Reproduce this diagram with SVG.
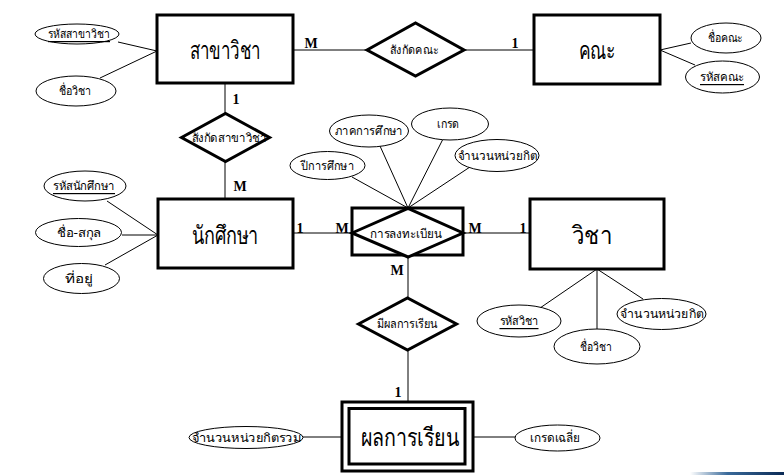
<svg xmlns="http://www.w3.org/2000/svg" width="784" height="475" viewBox="0 0 784 475">
<defs>
<linearGradient id="bar" x1="0" y1="0" x2="1" y2="0">
<stop offset="0" stop-color="#ffffff"/>
<stop offset="0.4" stop-color="#3a6a9a"/>
<stop offset="1" stop-color="#0b2a55"/>
</linearGradient>
<style>
.ent{fill:#fff;stroke:#000;stroke-width:3}
.rel{fill:#fff;stroke:#000;stroke-width:3;stroke-linejoin:miter}
.att{fill:#fff;stroke:#000;stroke-width:1}
.ln{stroke:#000;stroke-width:1;fill:none}
.et{font-family:"Liberation Serif","DejaVu Serif",serif;font-size:25px;text-anchor:middle;dominant-baseline:central}
.rt{font-family:"Liberation Serif","DejaVu Serif",serif;font-size:12px;text-anchor:middle;dominant-baseline:central}
.at{font-family:"Liberation Serif","DejaVu Serif",serif;font-size:12px;text-anchor:middle;dominant-baseline:central}
.u{text-decoration:underline}
.lb{font-family:"Liberation Serif","DejaVu Serif",serif;font-size:14px;font-weight:bold;text-anchor:middle;dominant-baseline:central}
</style>
</defs>
<rect width="784" height="475" fill="#fff"/>
<rect x="690" y="472" width="94" height="3" fill="url(#bar)"/>

<g id="connectors">
<line class="ln" x1="118" y1="42" x2="157" y2="51"/>
<line class="ln" x1="100" y1="78" x2="157" y2="51"/>
<line class="ln" x1="293" y1="50" x2="367" y2="50"/>
<line class="ln" x1="464" y1="50" x2="534" y2="50"/>
<line class="ln" x1="660" y1="50" x2="691" y2="43"/>
<line class="ln" x1="660" y1="50" x2="695" y2="65"/>
<line class="ln" x1="225" y1="83" x2="225" y2="113"/>
<line class="ln" x1="225" y1="162" x2="225" y2="199"/>
<line class="ln" x1="107" y1="201" x2="158" y2="235"/>
<line class="ln" x1="122" y1="235" x2="158" y2="235"/>
<line class="ln" x1="105" y1="265" x2="158" y2="235"/>
<line class="ln" x1="293" y1="233" x2="352" y2="233"/>
<line class="ln" x1="463" y1="233" x2="530" y2="233"/>
<line class="ln" x1="352" y1="177" x2="408" y2="208"/>
<line class="ln" x1="380" y1="146" x2="408" y2="208"/>
<line class="ln" x1="443" y1="139" x2="408" y2="208"/>
<line class="ln" x1="473" y1="165" x2="408" y2="208"/>
<line class="ln" x1="597" y1="269" x2="540" y2="308"/>
<line class="ln" x1="597" y1="269" x2="597" y2="329"/>
<line class="ln" x1="597" y1="269" x2="643" y2="299"/>
<line class="ln" x1="408" y1="257" x2="408" y2="298"/>
<line class="ln" x1="408" y1="350" x2="408" y2="402"/>
<line class="ln" x1="303" y1="437" x2="342" y2="437"/>
<line class="ln" x1="473" y1="437" x2="515" y2="437"/>
<text class="lb" x="311" y="43">M</text>
<text class="lb" x="515" y="43">1</text>
<text class="lb" x="236" y="99">1</text>
<text class="lb" x="240" y="186">M</text>
<text class="lb" x="300" y="228">1</text>
<text class="lb" x="342" y="228">M</text>
<text class="lb" x="475" y="228">M</text>
<text class="lb" x="523" y="228">1</text>
<text class="lb" x="397" y="270">M</text>
<text class="lb" x="398" y="392">1</text>
</g>

<g id="sakha">
<rect class="ent" x="157" y="15" width="136" height="68"/>
<text class="et" x="225" y="50" textLength="71" lengthAdjust="spacingAndGlyphs">สาขาวิชา</text>
</g>
<g id="sakha-id">
<ellipse class="att" cx="77" cy="34" rx="42" ry="10"/>
<text class="at u" x="79" y="34" textLength="62" lengthAdjust="spacingAndGlyphs">รหัสสาขาวิชา</text>
</g>
<g id="sakha-name">
<ellipse class="att" cx="76" cy="91" rx="40" ry="15"/>
<text class="at" x="75" y="91" textLength="33" lengthAdjust="spacingAndGlyphs">ชื่อวิชา</text>
</g>

<g id="sangkat-khana">
<polygon class="rel" points="367,50 415.5,23 464,50 415.5,76"/>
<text class="rt" x="414" y="50" textLength="48" lengthAdjust="spacingAndGlyphs">สังกัดคณะ</text>
</g>

<g id="khana">
<rect class="ent" x="534" y="15" width="126" height="69"/>
<text class="et" x="597" y="50" textLength="37" lengthAdjust="spacingAndGlyphs">คณะ</text>
</g>
<g id="khana-name">
<ellipse class="att" cx="726" cy="38" rx="35" ry="15"/>
<text class="at" x="725" y="38" textLength="35" lengthAdjust="spacingAndGlyphs">ชื่อคณะ</text>
</g>
<g id="khana-id">
<ellipse class="att" cx="722.5" cy="77" rx="37" ry="16"/>
<text class="at u" x="722" y="77" textLength="44" lengthAdjust="spacingAndGlyphs">รหัสคณะ</text>
</g>

<g id="sangkat-sakha">
<polygon class="rel" points="181.5,137.5 225.5,113.5 269.5,137.5 225.5,161.5"/>
<text class="rt" x="229" y="137.5" textLength="75" lengthAdjust="spacingAndGlyphs">สังกัดสาขาวิชา</text>
</g>

<g id="student">
<rect class="ent" x="158" y="199" width="135" height="69"/>
<text class="et" x="225" y="235" textLength="67" lengthAdjust="spacingAndGlyphs">นักศึกษา</text>
</g>
<g id="student-id">
<ellipse class="att" cx="85" cy="186" rx="41" ry="15"/>
<text class="at u" x="84" y="186" textLength="62" lengthAdjust="spacingAndGlyphs">รหัสนักศึกษา</text>
</g>
<g id="student-name">
<ellipse class="att" cx="78.5" cy="232.5" rx="43" ry="14"/>
<text class="at" x="79" y="232.5" textLength="44" lengthAdjust="spacingAndGlyphs">ชื่อ-สกุล</text>
</g>
<g id="student-addr">
<ellipse class="att" cx="81.5" cy="278.5" rx="38" ry="15"/>
<text class="at" x="79" y="278.5" textLength="28" lengthAdjust="spacingAndGlyphs">ที่อยู่</text>
</g>

<g id="register">
<rect class="ent" x="352" y="208" width="111" height="47"/>
<polygon class="rel" points="352,233 408,208.5 463,233 408,257"/>
<text class="rt" x="406" y="234" textLength="72" lengthAdjust="spacingAndGlyphs">การลงทะเบียน</text>
</g>
<g id="reg-year">
<ellipse class="att" cx="327.5" cy="165.5" rx="37.5" ry="14"/>
<text class="at" x="327.5" y="165.5" textLength="53" lengthAdjust="spacingAndGlyphs">ปีการศึกษา</text>
</g>
<g id="reg-term">
<ellipse class="att" cx="369" cy="131" rx="39.5" ry="16"/>
<text class="at" x="369" y="131" textLength="68" lengthAdjust="spacingAndGlyphs">ภาคการศึกษา</text>
</g>
<g id="reg-grade">
<ellipse class="att" cx="450" cy="124" rx="38.5" ry="16"/>
<text class="at" x="448" y="124" textLength="22" lengthAdjust="spacingAndGlyphs">เกรด</text>
</g>
<g id="reg-credit">
<ellipse class="att" cx="497" cy="155.5" rx="42" ry="16"/>
<text class="at" x="497.5" y="155.5" textLength="80" lengthAdjust="spacingAndGlyphs">จำนวนหน่วยกิต</text>
</g>

<g id="subject">
<rect class="ent" x="530" y="199" width="134" height="70"/>
<text class="et" x="592" y="235" textLength="40" lengthAdjust="spacingAndGlyphs">วิชา</text>
</g>
<g id="subject-id">
<ellipse class="att" cx="519" cy="321" rx="42" ry="16"/>
<text class="at u" x="519" y="321" textLength="39" lengthAdjust="spacingAndGlyphs">รหัสวิชา</text>
</g>
<g id="subject-name">
<ellipse class="att" cx="597" cy="346.5" rx="43" ry="17.5"/>
<text class="at" x="596" y="346.5" textLength="32" lengthAdjust="spacingAndGlyphs">ชื่อวิชา</text>
</g>
<g id="subject-credit">
<ellipse class="att" cx="661.5" cy="314" rx="44.5" ry="15.5"/>
<text class="at" x="662" y="314" textLength="84" lengthAdjust="spacingAndGlyphs">จำนวนหน่วยกิต</text>
</g>

<g id="has-result">
<polygon class="rel" points="358.5,324 407.5,298 456.5,324 407.5,350"/>
<text class="rt" x="407" y="324" textLength="61" lengthAdjust="spacingAndGlyphs">มีผลการเรียน</text>
</g>

<g id="result">
<rect class="ent" x="342" y="402" width="131" height="69"/>
<rect class="ent" x="349" y="408.5" width="116" height="55.5"/>
<text class="et" x="410" y="437" textLength="99" lengthAdjust="spacingAndGlyphs">ผลการเรียน</text>
</g>
<g id="result-credit">
<ellipse class="att" cx="246" cy="437.5" rx="57" ry="11"/>
<text class="at" x="246.5" y="437.5" textLength="110" lengthAdjust="spacingAndGlyphs">จำนวนหน่วยกิตรวม</text>
</g>
<g id="result-gpa">
<ellipse class="att" cx="557.5" cy="438" rx="42.5" ry="13"/>
<text class="at" x="555" y="438" textLength="50" lengthAdjust="spacingAndGlyphs">เกรดเฉลี่ย</text>
</g>
</svg>
